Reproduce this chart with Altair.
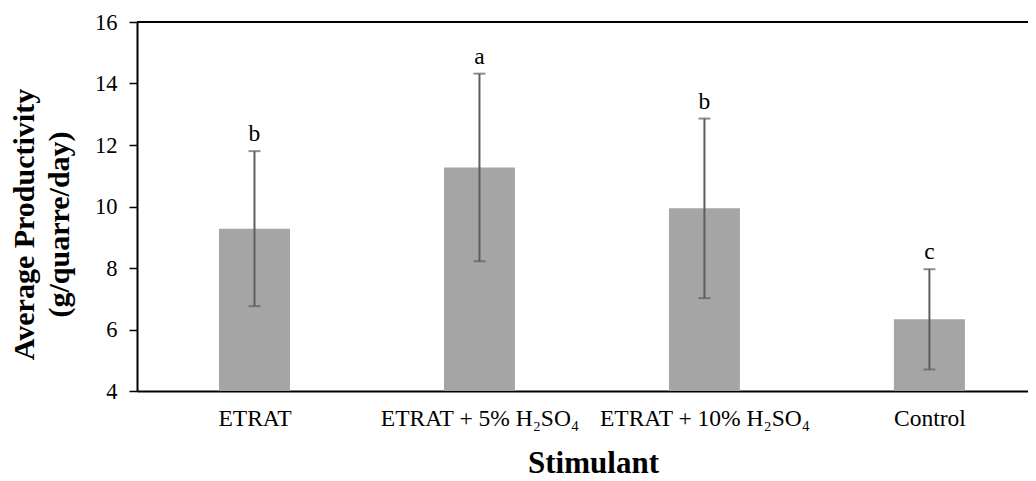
import altair as alt
import pandas as pd

categories = ["ETRAT", "ETRAT + 5% H₂SO₄", "ETRAT + 10% H₂SO₄", "Control"]
means = [9.28, 11.27, 9.94, 6.33]
errors = [2.52, 3.05, 2.92, 1.63]
letters = ["b", "a", "b", "c"]

df = pd.DataFrame({
    "idx": list(range(len(categories))),
    "cat": categories,
    "mean": means,
    "err": errors,
    "letter": letters,
})
df["lo"] = df["mean"] - df["err"]
df["hi"] = df["mean"] + df["err"]

FONT = "Liberation Serif"
label_expr = "[" + ",".join("'" + c + "'" for c in categories) + "][datum.value]"

xscale = alt.Scale(domain=[-0.5, 3.416], nice=False, zero=False)
yscale = alt.Scale(domain=[4, 16], nice=False, zero=False)

x_axis = alt.Axis(
    values=[0, 1, 2, 3], labelExpr=label_expr, ticks=False, tickSize=0, grid=False,
    domainColor="black", domainWidth=2, labelFont=FONT, labelFontSize=23.5,
    labelColor="black", labelPadding=15, labelLimit=0, labelOverlap=False,
    title="Stimulant", titleFont=FONT, titleFontSize=31, titleFontWeight="bold",
    titleColor="black", titleX=456, titleY=81, titleAnchor="middle",
    titleAlign="center", titleBaseline="alphabetic",
)
y_axis = alt.Axis(
    values=[4, 6, 8, 10, 12, 14, 16], grid=False, tickSize=8, tickColor="black",
    tickWidth=1.5, domainColor="black", domainWidth=2, labelFont=FONT,
    labelFontSize=22.5, labelColor="black", labelPadding=12,
    title=["Average Productivity", "(g/quarre/day)"], titleFont=FONT,
    titleFontSize=30, titleFontWeight="bold", titleColor="black",
    titleAngle=-90, titleX=-113, titleY=202, titleAlign="center",
    titleBaseline="middle", titleLineHeight=35,
)

base = alt.Chart(df)

bars = base.mark_bar(size=71, color="#a5a5a5").encode(
    x=alt.X("idx:Q", scale=xscale, axis=x_axis),
    y=alt.Y("mean:Q", scale=yscale, axis=y_axis),
    y2=alt.datum(4),
)

err = base.mark_rule(color="#5e5e5e", strokeWidth=2).encode(
    x=alt.X("idx:Q", scale=xscale),
    y=alt.Y("lo:Q", scale=yscale),
    y2="hi:Q",
)
cap_hi = base.mark_tick(orient="horizontal", size=12, thickness=2, color="#5e5e5e").encode(
    x=alt.X("idx:Q", scale=xscale),
    y=alt.Y("hi:Q", scale=yscale),
)
cap_lo = base.mark_tick(orient="horizontal", size=12, thickness=2, color="#5e5e5e").encode(
    x=alt.X("idx:Q", scale=xscale),
    y=alt.Y("lo:Q", scale=yscale),
)
txt = base.mark_text(font=FONT, fontSize=23.5, color="black", baseline="alphabetic", dy=-10).encode(
    x=alt.X("idx:Q", scale=xscale),
    y=alt.Y("hi:Q", scale=yscale),
    text="letter:N",
)
top_line = alt.Chart(pd.DataFrame({"top": [16]})).mark_rule(color="black", strokeWidth=2).encode(
    y=alt.Y("top:Q", scale=yscale),
)

chart = alt.layer(bars, err, cap_hi, cap_lo, txt, top_line).properties(
    width=891, height=369,
    autosize=alt.AutoSizeParams(type="none"),
    padding={"left": 129, "top": 14, "right": 0, "bottom": 90},
).configure_view(stroke=None).configure(background="white")

chart.save("out.html", embed_options={"renderer": "svg", "actions": False})
